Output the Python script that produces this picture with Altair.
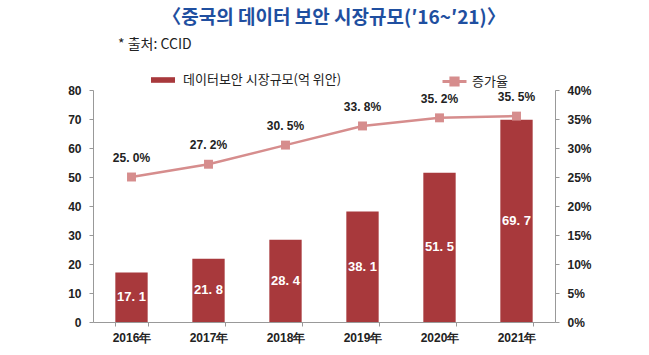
import altair as alt
import pandas as pd

years = ["2016年", "2017年", "2018年", "2019年", "2020年", "2021年"]
market = [17.1, 21.8, 28.4, 38.1, 51.5, 69.7]
growth = [0.250, 0.272, 0.305, 0.338, 0.352, 0.355]
left_ticks = [0, 10, 20, 30, 40, 50, 60, 70, 80]
right_ticks = [0, 0.05, 0.10, 0.15, 0.20, 0.25, 0.30, 0.35, 0.40]
bar_name = "데이터보안 시장규모(억 위안)"
line_name = "증가율"

df = pd.DataFrame({
    "year": years,
    "market": market,
    "half": [v / 2 for v in market],
    "mlabel": [f"{v:.1f}".replace(".", ". ") for v in market],
    "growth": growth,
    "glabel": [f"{v*100:.1f}".replace(".", ". ") + "%" for v in growth],
    "s1": [bar_name] * 6,
    "s2": [line_name] * 6,
})

BAR = "#A8393C"
LINE = "#D68D8D"
AX_FONT = "Liberation Sans"

x = alt.X("year:N", sort=years, title=None,
          scale=alt.Scale(paddingInner=0.58, paddingOuter=0.29),
          axis=alt.Axis(labelAngle=0, labelFont=AX_FONT, labelFontWeight="bold",
                        labelFontSize=12, labelColor="#222", domainColor="#999",
                        tickColor="#999", tickBand="extent", tickSize=4,
                        labelPadding=6))

left_axis = alt.Axis(values=left_ticks, grid=False, labelOverlap=False,
                     labelFont=AX_FONT, labelFontWeight="bold", labelFontSize=12,
                     labelColor="#222", domainColor="#999", tickColor="#999",
                     tickSize=4, labelPadding=8)
left_scale = alt.Scale(domain=[0, 80])

right_axis = alt.Axis(orient="right", values=right_ticks, format=".0%",
                      grid=False, labelOverlap=False, labelFont=AX_FONT,
                      labelFontWeight="bold",
                      labelFontSize=12, labelColor="#222", domainColor="#999",
                      tickColor="#999", tickSize=4, labelPadding=8)
right_scale = alt.Scale(domain=[0, 0.4])

base = alt.Chart(df)

bars = base.mark_bar(color=BAR).encode(
    x=x,
    y=alt.Y("market:Q", title=None, scale=left_scale, axis=left_axis),
    color=alt.Color("s1:N", scale=alt.Scale(domain=[bar_name], range=[BAR]),
                    legend=alt.Legend(title=None, orient="none", legendX=62, legendY=-18,
                                      symbolType="M-1.5,-0.35H1.5V0.35H-1.5Z",
                                      symbolSize=256, symbolStrokeWidth=0,
                                      labelFont="Noto Sans CJK KR", labelFontSize=13,
                                      labelColor="#222", labelOffset=12)),
)

bar_text = base.mark_text(color="white", font=AX_FONT, fontSize=13,
                          fontWeight="bold").encode(
    x=alt.X("year:N", sort=years, title=None),
    y=alt.Y("half:Q", title=None, scale=left_scale, axis=left_axis),
    text="mlabel:N",
)

line = base.mark_line(strokeWidth=2.5,
                      point=alt.OverlayMarkDef(shape="square", size=80, filled=True,
                                               color=LINE, opacity=1)).encode(
    x=alt.X("year:N", sort=years, title=None),
    y=alt.Y("growth:Q", title=None, scale=right_scale, axis=right_axis),
    color=alt.Color("s2:N", scale=alt.Scale(domain=[line_name], range=[LINE]),
                    legend=alt.Legend(title=None, orient="none", legendX=352, legendY=-18,
                                      symbolType="M-1.5,0H1.5M-0.45,-0.45H0.45V0.45H-0.45Z",
                                      symbolSize=256, symbolStrokeWidth=3,
                                      symbolFillColor=LINE,
                                      labelFont="Noto Sans CJK KR", labelFontSize=13,
                                      labelColor="#222", labelOffset=8)),
)

line_text = base.mark_text(color="#222", font=AX_FONT, fontSize=12,
                           fontWeight="bold", dy=-19).encode(
    x=alt.X("year:N", sort=years, title=None),
    y=alt.Y("growth:Q", title=None, scale=right_scale, axis=right_axis),
    text="glabel:N",
)

src = alt.Chart(pd.DataFrame({"t": ["* 출처: CCID"]})).mark_text(
    align="left", baseline="middle", font="Noto Sans CJK KR", fontSize=14, color="#222"
).encode(x=alt.value(25), y=alt.value(-45), text="t:N")

left = alt.layer(bars, bar_text)
right = alt.layer(line, line_text)

chart = alt.layer(left, right, src).resolve_scale(
    y="independent", color="independent"
).properties(
    width=462, height=232,
    autosize=alt.AutoSizeParams(type="none"),
    padding={"left": 93, "top": 90, "right": 94, "bottom": 33},
    title=alt.Title("〈중국의 데이터 보안 시장규모(′16~′21)〉", font="Noto Sans CJK KR",
                    fontSize=19, fontWeight="bold", color="#1F4FA0", anchor="middle",
                    offset=10, dx=10),
).configure_view(stroke=None)

chart.save("out.html", embed_options={"renderer": "svg", "actions": False})
